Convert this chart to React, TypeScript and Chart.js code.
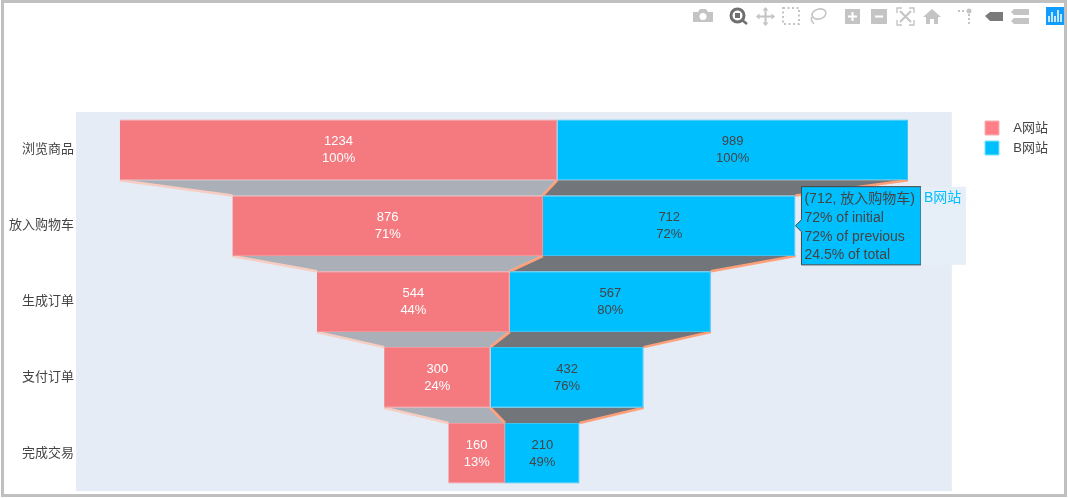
import React, { useEffect, useRef } from "react";
import { Chart, registerables } from "chart.js";

Chart.register(...registerables);

const stages = ["浏览商品", "放入购物车", "生成订单", "支付订单", "完成交易"];
const seriesAName = "A网站";
const seriesBName = "B网站";
const seriesA = [1234, 876, 544, 300, 160];
const seriesB = [989, 712, 567, 432, 210];
const percentA = [100, 71, 44, 24, 13];
const percentB = [100, 72, 80, 76, 49];

const FONT = '"Liberation Sans", "Noto Sans CJK SC", sans-serif';
const PINK = "#F47A80";
const PINK_KEY = "#FF8086";
const BLUE = "#00BFFF";
const INK = "#444444";

const totals = stages.map((_, i) => seriesA[i] + seriesB[i]);
const aRanges = stages.map((_, i) => [-totals[i] / 2, -totals[i] / 2 + seriesA[i]]);
const bRanges = stages.map((_, i) => [-totals[i] / 2 + seriesA[i], totals[i] / 2]);
const sumB = seriesB.reduce((s, v) => s + v, 0);
const axisLimit = (totals[0] / 2) / 0.9;

const planePlugin = {
  id: "plane",
  beforeDraw(chart: any) {
    const { ctx, chartArea: a } = chart;
    ctx.save();
    ctx.fillStyle = "#E5ECF6";
    ctx.fillRect(a.left, a.top, a.right - a.left, a.bottom - a.top);
    ctx.restore();
  },
};

const legendPlacePlugin = {
  id: "legendPlace",
  afterLayout(chart: any) {
    const l = chart.legend;
    const h = l.bottom - l.top;
    l.left = 979;
    l.right = 1048;
    l.top = 115;
    l.bottom = 115 + h;
  },
};

function connector(ctx: any, pts: number[][], fill: string, line: string) {
  ctx.beginPath();
  ctx.moveTo(pts[0][0], pts[0][1]);
  ctx.lineTo(pts[1][0], pts[1][1]);
  ctx.lineTo(pts[2][0], pts[2][1]);
  ctx.lineTo(pts[3][0], pts[3][1]);
  ctx.closePath();
  ctx.fillStyle = fill;
  ctx.fill();
  ctx.strokeStyle = line;
  ctx.lineWidth = 2.5;
  ctx.beginPath();
  ctx.moveTo(pts[0][0], pts[0][1]);
  ctx.lineTo(pts[3][0], pts[3][1]);
  ctx.moveTo(pts[1][0], pts[1][1]);
  ctx.lineTo(pts[2][0], pts[2][1]);
  ctx.stroke();
}

const connectorPlugin = {
  id: "connectors",
  beforeDatasetsDraw(chart: any) {
    const { ctx } = chart;
    const a = chart.getDatasetMeta(0).data;
    const b = chart.getDatasetMeta(1).data;
    ctx.save();
    const half = (el: any) => el.height / 2;
    for (let i = 0; i < stages.length - 1; i++) {
      const y0 = a[i].y + half(a[i]);
      const y1 = a[i + 1].y - half(a[i + 1]);
      connector(ctx, [[a[i].base, y0], [a[i].x, y0], [a[i + 1].x, y1], [a[i + 1].base, y1]], "#ABB0B8", "#F7CDC2");
    }
    for (let i = 0; i < stages.length - 1; i++) {
      const y0 = b[i].y + half(b[i]);
      const y1 = b[i + 1].y - half(b[i + 1]);
      connector(ctx, [[b[i].base, y0], [b[i].x, y0], [b[i + 1].x, y1], [b[i + 1].base, y1]], "#72767A", "#FFA07A");
    }
    ctx.restore();
  },
};

const barLabelPlugin = {
  id: "barLabels",
  afterDatasetsDraw(chart: any) {
    const { ctx } = chart;
    ctx.save();
    ctx.font = `13px ${FONT}`;
    ctx.textAlign = "center";
    ctx.textBaseline = "middle";
    [seriesA, seriesB].forEach((vals, d) => {
      const pct = d === 0 ? percentA : percentB;
      ctx.fillStyle = d === 0 ? "#FFFFFF" : INK;
      chart.getDatasetMeta(d).data.forEach((el: any, i: number) => {
        const cx = (el.x + el.base) / 2;
        ctx.fillText(String(vals[i]), cx, el.y - 8);
        ctx.fillText(`${pct[i]}%`, cx, el.y + 9);
      });
    });
    ctx.restore();
  },
};

const hoverNamePlugin = {
  id: "hoverName",
  afterTooltipDraw(chart: any, args: any) {
    const t = args.tooltip;
    const { ctx } = chart;
    ctx.save();
    const x = t.x + t.width;
    ctx.fillStyle = "#E6EEF7";
    ctx.fillRect(x, t.y, 45, t.height);
    ctx.fillStyle = BLUE;
    ctx.font = `14px ${FONT}`;
    ctx.textAlign = "left";
    ctx.textBaseline = "middle";
    ctx.fillText(seriesBName, x + 3, t.y + 11);
    ctx.restore();
  },
};

const panel: React.CSSProperties = {
  position: "absolute",
  left: 1,
  top: 0,
  width: 1066,
  height: 497,
  boxSizing: "border-box",
  border: "3px solid #C0C0C0",
  pointerEvents: "none",
};

function ModeBar() {
  const g = "#C4C4C4";
  return (
    <svg width={1068} height={40} style={{ position: "absolute", left: 0, top: 0 }}>
      {/* camera */}
      <path d="M693 12h5l2-3h6l2 3h5v10h-20z" fill={g} />
      <circle cx={703} cy={16.5} r={3.5} fill="#fff" />
      {/* zoom */}
      <circle cx={737.5} cy={15.5} r={6.5} fill="none" stroke="#6F6F6F" strokeWidth={3} />
      <rect x={735} y={13} width={5} height={5} fill="#6F6F6F" />
      <line x1={742} y1={20} x2={747} y2={24} stroke="#6F6F6F" strokeWidth={2.5} />
      {/* pan */}
      <path d="M765.5 8v17M757 16.5h17" stroke={g} strokeWidth={2} />
      <path d="M765.5 7l3 3.5h-6zM765.5 26l3-3.5h-6zM756 16.5l3.5-3v6zM775 16.5l-3.5-3v6z" fill={g} />
      {/* box select */}
      <rect x={783} y={8} width={16} height={16} fill="none" stroke={g} strokeWidth={2} strokeDasharray="2 2.5" />
      {/* lasso */}
      <ellipse cx={819} cy={14} rx={7} ry={5} fill="none" stroke={g} strokeWidth={1.6} transform="rotate(-15 819 14)" />
      <path d="M812 17c-2 3 0 5 2 7" fill="none" stroke={g} strokeWidth={1.6} />
      {/* zoom in */}
      <rect x={845} y={9} width={15} height={15} fill={g} />
      <path d="M852.5 12v9M848 16.5h9" stroke="#fff" strokeWidth={2} />
      {/* zoom out */}
      <rect x={871} y={9} width={16} height={15} fill={g} />
      <path d="M875 16.5h8" stroke="#fff" strokeWidth={2} />
      {/* autoscale */}
      <path d="M897 13V8h5M909 8h5v5M914 20v5h-5M902 25h-5v-5" fill="none" stroke={g} strokeWidth={1.4} />
      <path d="M900 11l11 11M911 11l-11 11" stroke={g} strokeWidth={2} />
      {/* home */}
      <path d="M923 17l9-8 9 8h-3v7h-4v-5h-4v5h-4v-7z" fill={g} />
      {/* spikes */}
      <path d="M958 11h8M969 14v11" stroke={g} strokeWidth={2} strokeDasharray="2 2" />
      <circle cx={969} cy={11} r={2.5} fill={g} />
      {/* closest */}
      <path d="M985 16l5-4h13v9h-13z" fill="#7A7A7A" />
      {/* compare */}
      <path d="M1011 12l3-3h15v6h-15zM1011 21l3-3h15v6h-15z" fill={g} />
      {/* logo */}
      <rect x={1046} y={7} width={18} height={18} fill="#119DFF" />
      <path d="M1049 16v6M1052 12v10M1055 16v6M1058 10v12M1061 14v8" stroke="#fff" strokeWidth={1.5} />
    </svg>
  );
}

export default function App() {
  const ref = useRef<HTMLCanvasElement>(null);

  useEffect(() => {
    const chart = new Chart(ref.current as HTMLCanvasElement, {
      type: "bar",
      data: {
        labels: stages,
        datasets: [
          {
            label: seriesAName,
            data: aRanges as any,
            backgroundColor: PINK,
            hoverBackgroundColor: PINK,
            borderColor: "#F59499",
            hoverBorderColor: "#F59499",
            borderWidth: 1,
            borderSkipped: "right",
            grouped: false,
            categoryPercentage: 0.8,
            barPercentage: 1,
          },
          {
            label: seriesBName,
            data: bRanges as any,
            backgroundColor: BLUE,
            hoverBackgroundColor: BLUE,
            borderColor: "#3FC4F2",
            hoverBorderColor: "#3FC4F2",
            borderWidth: 1,
            borderSkipped: "left",
            grouped: false,
            categoryPercentage: 0.8,
            barPercentage: 1,
          },
        ],
      },
      options: {
        indexAxis: "y",
        responsive: false,
        animation: false,
        events: [],
        layout: { autoPadding: false, padding: { top: 112, bottom: 7, left: 0, right: 45 } },
        scales: {
          x: { display: false, min: -axisLimit, max: axisLimit },
          y: {
            grid: { display: false, tickLength: 0 },
            border: { display: false },
            ticks: { color: INK, font: { family: FONT, size: 13 }, padding: 2 },
            afterFit(scale: any) {
              scale.width = 76;
            },
          },
        },
        plugins: {
          legend: {
            position: "right",
            align: "start",
            labels: {
              color: INK,
              font: { family: FONT, size: 13 },
              boxWidth: 14,
              boxHeight: 14,
              padding: 6,
              textAlign: "right",
              generateLabels(chart: any) {
                const items = Chart.defaults.plugins.legend.labels.generateLabels(chart);
                items[0].fillStyle = PINK_KEY;
                items[0].strokeStyle = "#FFB0B3";
                items[1].strokeStyle = "#7FDFFF";
                return items;
              },
            },
          },
          tooltip: {
            enabled: true,
            backgroundColor: BLUE,
            borderColor: "#444444",
            borderWidth: 1,
            cornerRadius: 0,
            caretSize: 6,
            caretPadding: 0,
            displayColors: false,
            xAlign: "left",
            yAlign: "center",
            padding: { top: 4, bottom: 1, left: 3, right: 6 },
            titleColor: INK,
            bodyColor: INK,
            titleFont: { family: FONT, size: 14, weight: "normal" },
            bodyFont: { family: FONT, size: 14 },
            titleMarginBottom: 2,
            bodySpacing: 2,
            callbacks: {
              title: (items: any[]) => `(${seriesB[items[0].dataIndex]}, ${stages[items[0].dataIndex]})`,
              label: (item: any) => {
                const i = item.dataIndex;
                return [
                  `${percentB[i]}% of initial`,
                  `${percentB[i]}% of previous`,
                  `${((seriesB[i] / sumB) * 100).toFixed(1)}% of total`,
                ];
              },
            },
          },
        },
      } as any,
      plugins: [planePlugin, legendPlacePlugin, connectorPlugin, barLabelPlugin, hoverNamePlugin],
    });
    chart.tooltip!.setActiveElements([{ datasetIndex: 1, index: 1 }], { x: 795, y: 226 });
    chart.draw();
    return () => chart.destroy();
  }, []);

  return (
    <div style={{ position: "fixed", left: 0, top: 0, width: 1068, height: 498, background: "#fff", overflow: "hidden" }}>
      <canvas ref={ref} width={1068} height={501} style={{ position: "absolute", left: 0, top: 0 }} />
      <ModeBar />
      <div style={panel} />
    </div>
  );
}
